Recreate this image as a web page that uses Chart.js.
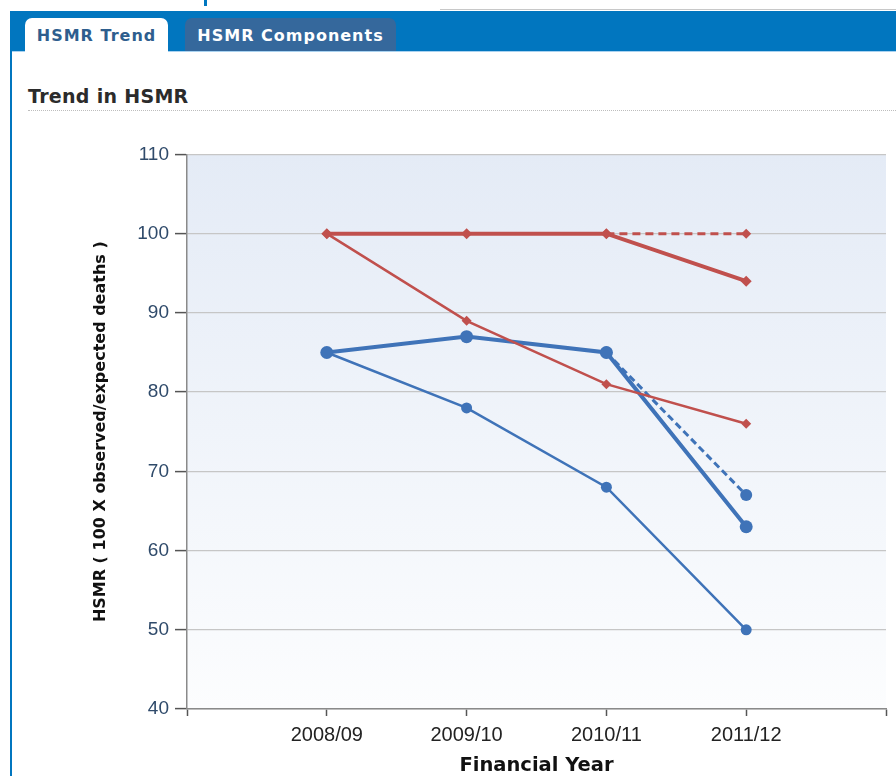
<!DOCTYPE html>
<html>
<head>
<meta charset="utf-8">
<script src="https://cdn.jsdelivr.net/npm/chart.js@4.4.1/dist/chart.umd.min.js"></script>
<style>
  html, body { margin: 0; padding: 0; background: #fff; }
  body { width: 896px; height: 776px; position: relative; overflow: hidden; font-family: "DejaVu Sans", Verdana, sans-serif; }
  .topmark { position: absolute; left: 204px; top: 0; width: 3px; height: 6px; background: #0077c0; }
  .topline { position: absolute; left: 440px; right: 0; top: 9px; height: 1px; background: #c8c8c8; }
  .band { position: absolute; left: 10px; right: 0; top: 11px; height: 40px; background: #0176bf; border-bottom: 1px solid #a9d2f0; }
  .leftborder { position: absolute; left: 10px; top: 11px; bottom: 0; width: 2px; background: #0176bf; }
  .tab { position: absolute; top: 18px; height: 34px; border-radius: 7px 7px 0 0; font-weight: bold; font-size: 16px; line-height: 36px; text-align: center; letter-spacing: 1px; }
  .tab1 { left: 25px; width: 143px; background: #fff; color: #2e5e8e; }
  .tab2 { left: 185px; width: 211px; background: #35689c; color: #fff; height: 33px; }
  .heading { position: absolute; left: 28px; top: 85px; font-size: 19px; font-weight: bold; color: #2b2b2b; letter-spacing: 0.3px; }
  .dots { position: absolute; left: 28px; right: 0; top: 110px; border-top: 1px dotted #bdbdbd; }
  .wrap { position: absolute; left: 80px; top: 137px; width: 816px; height: 639px; }
</style>
</head>
<body>
<div class="topmark"></div>
<div class="topline"></div>
<div class="band"></div>
<div class="leftborder"></div>
<div class="tab tab1">HSMR Trend</div>
<div class="tab tab2">HSMR Components</div>
<div class="heading">Trend in HSMR</div>
<div class="dots"></div>
<div class="wrap"><canvas id="hsmrChart" width="816" height="639"></canvas></div>

<script>
// financial years (empty slots at both ends keep the axis padded like the original)
const years = ['', '2008/09', '2009/10', '2010/11', '2011/12', ''];

// HSMR values
const redThick  = [null, 100, 100, 100, 94, null];
const redDashed = [null, null, null, 100, 100, null];
const redThin   = [null, 100, 89, 81, 76, null];
const blueThick  = [null, 85, 87, 85, 63, null];
const blueDashed = [null, null, null, 85, 67, null];
const blueThin   = [null, 85, 78, 68, 50, null];

const RED = '#c0504d';
const BLUE = '#3f73b8';

// light blue gradient behind the plot
const plotBg = {
  id: 'plotBg',
  beforeDraw(chart) {
    const { ctx, chartArea: a } = chart;
    const g = ctx.createLinearGradient(0, a.top, 0, a.bottom);
    g.addColorStop(0, '#e4ebf6');
    g.addColorStop(1, '#fcfdfe');
    ctx.save();
    ctx.fillStyle = g;
    ctx.fillRect(a.left, a.top, a.right - a.left, a.bottom - a.top);
    ctx.restore();
  }
};

const line = (data, color, width, radius, style, dash) => ({
  data: data,
  borderColor: color,
  backgroundColor: color,
  borderWidth: width,
  borderDash: dash || [],
  pointStyle: style,
  pointRadius: radius,
  pointBorderWidth: 0,
  pointBackgroundColor: color,
  tension: 0,
  spanGaps: false
});

new Chart(document.getElementById('hsmrChart'), {
  type: 'line',
  data: {
    labels: years,
    datasets: [
      line(redDashed, RED, 3, 5, 'rectRot', [8, 5]),
      line(redThin, RED, 2.5, 5, 'rectRot'),
      line(redThick, RED, 4, 5.5, 'rectRot'),
      line(blueThin, BLUE, 2.5, 5.5, 'circle'),
      line(blueDashed, BLUE, 3, 6, 'circle', [7, 4]),
      line(blueThick, BLUE, 4, 6.5, 'circle')
    ]
  },
  options: {
    responsive: false,
    animation: false,
    layout: { padding: { top: 9, right: 10 } },
    plugins: {
      legend: { display: false },
      tooltip: { enabled: false }
    },
    scales: {
      x: {
        offset: false,
        afterFit: (s) => { s.height = 67; },
        border: { color: '#8a8a8a', width: 1.5 },
        grid: { drawOnChartArea: false, tickLength: 7, tickColor: '#555', tickWidth: 1.5 },
        ticks: { color: '#222', padding: 7, font: { family: 'Liberation Sans', size: 20 }, autoSkip: false, maxRotation: 0 },
        title: { display: true, text: 'Financial Year', color: '#111', padding: { top: 0, bottom: 0 },
                 font: { family: 'DejaVu Sans', size: 19.5, weight: 'bold', lineHeight: 1 } }
      },
      y: {
        min: 40,
        max: 110,
        afterFit: (s) => { s.width = 107; },
        border: { color: '#8a8a8a', width: 1.5 },
        grid: { color: '#c6c6c6', lineWidth: 1.2, tickLength: 12, tickColor: '#555', tickWidth: 1.5 },
        ticks: { stepSize: 10, color: '#2f4a6a', padding: 6, font: { family: 'Liberation Sans', size: 19 } },
        title: { display: true, text: 'HSMR ( 100 X observed/expected deaths )', color: '#111',
                 padding: { top: 11, bottom: 0 }, font: { family: 'DejaVu Sans', size: 16, weight: 'bold' } }
      }
    }
  },
  plugins: [plotBg]
});
</script>
</body>
</html>
